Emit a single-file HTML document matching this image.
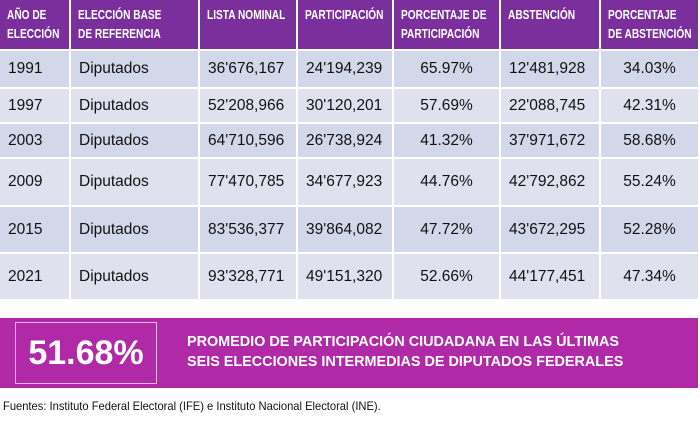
<!DOCTYPE html>
<html><head><meta charset="utf-8"><style>
body{margin:0;width:700px;height:421px;background:#fff;position:relative;overflow:hidden;font-family:"Liberation Sans",sans-serif}
.c{position:absolute;box-sizing:border-box}
.h{background:#7b2f9c;color:#fff;font-weight:bold;font-size:13px;line-height:19px;padding:5px 0 0 7px;white-space:nowrap;overflow:hidden}
.h span{display:inline-block;transform:scaleX(0.78);transform-origin:left top}
.d{font-size:15.5px;color:#111;display:flex;align-items:center;padding-left:8px}
.ctr{justify-content:center;padding-left:0}
</style></head><body>
<div id="t"></div>
<div class="c" style="left:0;top:318px;width:698px;height:70px;background:#b02aa7"></div>
<div class="c" style="left:15px;top:322px;width:142px;height:62px;border:1px solid #e9b8e4;color:#fff;font-weight:bold;font-size:34px;display:flex;align-items:center;justify-content:center">51.68%</div>
<div class="c" style="left:187px;top:332px;color:#fff;font-weight:bold;font-size:14.4px;line-height:20px;white-space:nowrap">PROMEDIO DE PARTICIPACIÓN CIUDADANA EN LAS ÚLTIMAS<br>SEIS ELECCIONES INTERMEDIAS DE DIPUTADOS FEDERALES</div>
<div class="c" style="left:3px;top:399px;font-size:12px;color:#111;white-space:nowrap;transform:scaleX(0.93);transform-origin:left top">Fuentes: Instituto Federal Electoral (IFE) e Instituto Nacional Electoral (INE).</div>
<script>
var xs=[0,71,200,298,394,501,601,700];
var heads=["AÑO DE<br>ELECCIÓN","ELECCIÓN BASE<br>DE REFERENCIA","LISTA NOMINAL","PARTICIPACIÓN","PORCENTAJE DE<br>PARTICIPACIÓN","ABSTENCIÓN","PORCENTAJE<br>DE ABSTENCIÓN"];
var rows=[[51,87],[89,122],[124,157],[159,205],[207,252],[254,299]];
var data=[["1991","36'676,167","24'194,239","65.97%","12'481,928","34.03%"],
["1997","52'208,966","30'120,201","57.69%","22'088,745","42.31%"],
["2003","64'710,596","26'738,924","41.32%","37'971,672","58.68%"],
["2009","77'470,785","34'677,923","44.76%","42'792,862","55.24%"],
["2015","83'536,377","39'864,082","47.72%","43'672,295","52.28%"],
["2021","93'328,771","49'151,320","52.66%","44'177,451","47.34%"]];
var h="";
for(var i=0;i<7;i++){h+='<div class="c h" style="left:'+xs[i]+'px;top:0;width:'+(xs[i+1]-xs[i]-2)+'px;height:49px"><span>'+heads[i]+'</span></div>';}
for(var r=0;r<6;r++){var bg=r%2?"#dfe2ee":"#d3d7ea";var d=data[r];var vals=[d[0],"Diputados",d[1],d[2],d[3],d[4],d[5]];
for(var i=0;i<7;i++){var ctr=(i==4||i==6)?" ctr":"";h+='<div class="c d'+ctr+'" style="left:'+xs[i]+'px;top:'+rows[r][0]+'px;width:'+(xs[i+1]-xs[i]-2)+'px;height:'+(rows[r][1]-rows[r][0])+'px;background:'+bg+'">'+vals[i]+'</div>';}}
document.getElementById("t").innerHTML=h;
</script>
</body></html>
